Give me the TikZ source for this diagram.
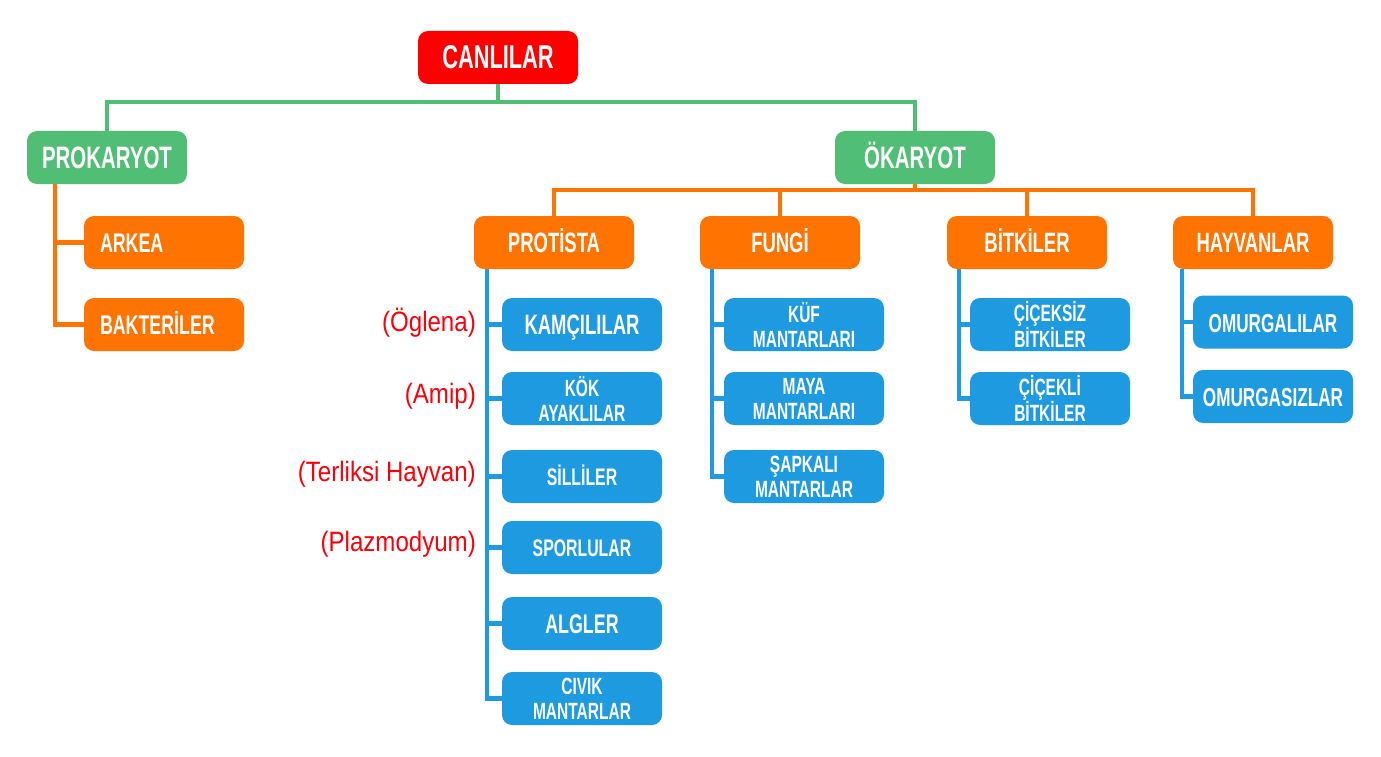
\documentclass[tikz,border=0pt]{standalone}
\usepackage{fontspec}
\usetikzlibrary{backgrounds,calc}
\setmainfont{Liberation Sans Bold}[FakeStretch=0.66]
\newfontfamily\handfont{Liberation Sans}[FakeStretch=0.86]
\definecolor{cRed}{RGB}{255,0,0}
\definecolor{cGreen}{RGB}{80,190,117}
\definecolor{cOrange}{RGB}{255,115,0}
\definecolor{cBlue}{RGB}{30,155,224}
\definecolor{cLabel}{RGB}{250,0,10}
\tikzset{
  box/.style={rounded corners=10pt, minimum width=160pt, minimum height=53pt, inner sep=0pt, text=white, align=center},
  redbox/.style={box, fill=cRed},
  greenbox/.style={box, fill=cGreen},
  orangebox/.style={box, fill=cOrange},
  bluebox/.style={box, fill=cBlue},
  fbig/.style={font=\fontsize{31}{33}\selectfont, text height=22.5pt, text depth=0pt},
  fmid/.style={font=\fontsize{28}{30}\selectfont, text height=20pt, text depth=0pt},
  fsm/.style={font=\fontsize{24}{26}\selectfont, text height=17pt, text depth=0pt},
  ftwo/.style={font=\fontsize{23.5}{25}\selectfont},
  gline/.style={draw=cGreen, line width=4.5pt},
  oline/.style={draw=cOrange, line width=4.5pt},
  bline/.style={draw=cBlue, line width=4.5pt},
  note/.style={text=cLabel, font=\handfont\fontsize{28}{30}\selectfont, anchor=east, inner sep=0pt}
}
\begin{document}
\begin{tikzpicture}[x=1pt,y=-1pt]
\useasboundingbox (0,0) rectangle (1381,757);
% level 0
\node[redbox, fbig, font=\fontsize{33}{35}\selectfont] (canl) at (498,57.5) {CANLILAR};
% level 1
\node[greenbox, fbig] (prok) at (107,157.5) {PROKARYOT};
\node[greenbox, fbig] (okar) at (915,157.5) {ÖKARYOT};
% prokaryot children
\node[orangebox, fmid, font=\fontsize{27}{29}\selectfont, align=left, text width=128pt] (arkea) at (164,242.5) {ARKEA};
\node[orangebox, fmid, font=\fontsize{27}{29}\selectfont, align=left, text width=128pt] (bakt) at (164,324.5) {BAKTERİLER};
% okaryot children
\node[orangebox, fmid] (prot) at (554,242.5) {PROTİSTA};
\node[orangebox, fmid] (fung) at (780,242.5) {FUNGİ};
\node[orangebox, fmid] (bitk) at (1027,242.5) {BİTKİLER};
\node[orangebox, fmid] (hayv) at (1253,242.5) {HAYVANLAR};
% protista children
\node[bluebox, fmid] (kamc) at (582,324.5) {KAMÇILILAR};
\node[bluebox, ftwo] (kok) at (582,398.5) {KÖK\\AYAKLILAR};
\node[bluebox, fsm] (sill) at (582,476.5) {SİLLİLER};
\node[bluebox, fsm] (spor) at (582,547.5) {SPORLULAR};
\node[bluebox, fmid, font=\fontsize{27}{29}\selectfont] (algl) at (582,623.5) {ALGLER};
\node[bluebox, ftwo] (civi) at (582,698.5) {CIVIK\\MANTARLAR};
% fungi children
\node[bluebox, ftwo] (kuf) at (804,324.5) {KÜF\\MANTARLARI};
\node[bluebox, ftwo] (maya) at (804,398.5) {MAYA\\MANTARLARI};
\node[bluebox, ftwo] (sapk) at (804,476.5) {ŞAPKALI\\MANTARLAR};
% bitkiler children
\node[bluebox, ftwo] (cics) at (1050,324.5) {ÇİÇEKSİZ\\BİTKİLER};
\node[bluebox, ftwo] (cicl) at (1050,398.5) {ÇİÇEKLİ\\BİTKİLER};
% hayvanlar children
\node[bluebox, fmid, font=\fontsize{26}{28}\selectfont] (omul) at (1273,322) {OMURGALILAR};
\node[bluebox, fmid, font=\fontsize{26}{28}\selectfont] (omus) at (1273,396.5) {OMURGASIZLAR};
% red notes
\node[note] (n1) at (476,323) {(Öglena)};
\node[note] (n2) at (476,396) {(Amip)};
\node[note] (n3) at (476,474) {(Terliksi Hayvan)};
\node[note] (n4) at (476,544) {(Plazmodyum)};
% connectors
\begin{scope}[on background layer]
\fill[white] (0,0) rectangle (1381,757);
\coordinate (gbar) at (498,102);
\draw[gline] (canl.south) -- (gbar) -| (prok.north);
\draw[gline] (gbar) -| (okar.north);
\coordinate (obar) at ($(okar.south)+(0,6)$);
\draw[oline] (okar.south) -- (obar) -| (prot.north);
\draw[oline] (obar) -| (fung.north);
\draw[oline] (obar) -| (bitk.north);
\draw[oline] (obar) -| (hayv.north);
\draw[oline] ([xshift=28pt]prok.south west) |- (arkea.west);
\draw[oline] ([xshift=28pt]prok.south west) |- (bakt.west);
\foreach \c in {kamc,kok,sill,spor,algl,civi}
  \draw[bline] ([xshift=13pt]prot.south west) |- (\c.west);
\foreach \c in {kuf,maya,sapk}
  \draw[bline] ([xshift=12pt]fung.south west) |- (\c.west);
\foreach \c in {cics,cicl}
  \draw[bline] ([xshift=12pt]bitk.south west) |- (\c.west);
\foreach \c in {omul,omus}
  \draw[bline] ([xshift=9pt]hayv.south west) |- (\c.west);
\end{scope}
\end{tikzpicture}
\end{document}
